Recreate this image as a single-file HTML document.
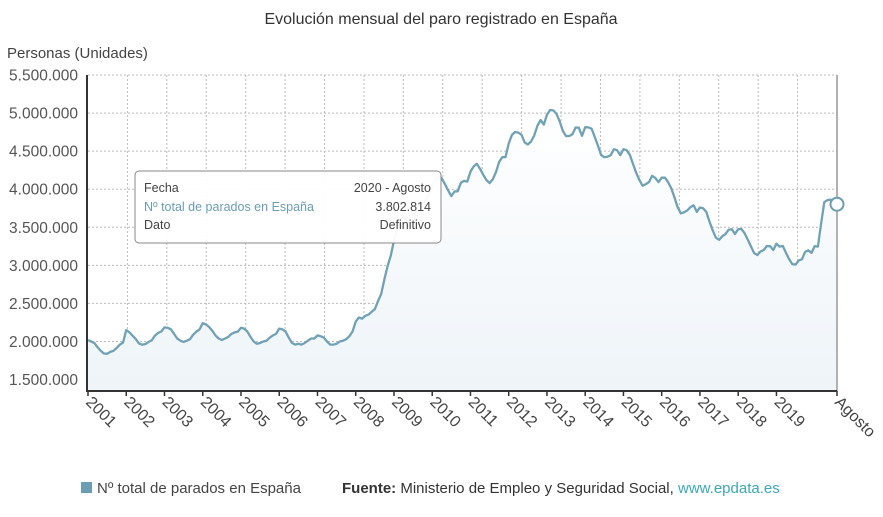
<!DOCTYPE html>
<html><head><meta charset="utf-8">
<style>
body{margin:0;background:#fff;width:883px;height:512px;overflow:hidden;font-family:"Liberation Sans",Arial,sans-serif;}
svg text{font-family:"Liberation Sans",Arial,sans-serif;}
</style></head>
<body>
<svg id="chart" width="883" height="512">
<defs><linearGradient id="fillg" x1="0" y1="0" x2="0" y2="1"><stop offset="0" stop-color="#ffffff"/><stop offset="1" stop-color="#eef4f8"/></linearGradient></defs>
<text x="441" y="24" text-anchor="middle" font-size="16" fill="#333">Evolución mensual del paro registrado en España</text>
<text x="7" y="58" font-size="15" fill="#444">Personas (Unidades)</text>
<g id="grid"></g>
<path id="area" fill="url(#fillg)"></path>
<path id="line" fill="none" stroke="#6fa2b6" stroke-width="2.3" stroke-linejoin="round"></path>
<g id="axes"></g>
<g id="tooltip">
<rect x="135" y="171" width="306" height="72" rx="4" fill="#fff" fill-opacity="0.95" stroke="#888"/>
<text x="144" y="192" font-size="12.5" fill="#444">Fecha</text>
<text x="431" y="192" font-size="12.5" fill="#444" text-anchor="end">2020 - Agosto</text>
<text x="144" y="211" font-size="12.5" fill="#6b9db3">Nº total de parados en España</text>
<text x="431" y="211" font-size="12.5" fill="#444" text-anchor="end">3.802.814</text>
<text x="144" y="229" font-size="12.5" fill="#444">Dato</text>
<text x="431" y="229" font-size="12.5" fill="#444" text-anchor="end">Definitivo</text>
</g>
<circle id="marker" r="6.5" fill="#fff" stroke="#6b9db3" stroke-width="2"></circle>
<rect x="81" y="482" width="11" height="11" fill="#6b9db3"/>
<text x="97" y="493" font-size="15" fill="#444">Nº total de parados en España</text>
<text x="342" y="493" font-size="15" fill="#333"><tspan font-weight="bold">Fuente:</tspan> Ministerio de Empleo y Seguridad Social, <tspan fill="#3aa9b8">www.epdata.es</tspan></text>
</svg>
<script>
const years = ["2001","2002","2003","2004","2005","2006","2007","2008","2009","2010","2011","2012","2013","2014","2015","2016","2017","2018","2019"];
const yTicks = [1500000,2000000,2500000,3000000,3500000,4000000,4500000,5000000,5500000];
const values = [
2018,1999,1979,1924,1878,1842,1838,1863,1878,1916,1959,1987,
2150,2121,2076,2032,1974,1958,1967,1995,2015,2078,2112,2131,
2185,2180,2160,2100,2040,2010,1995,2010,2030,2090,2130,2160,
2240,2225,2190,2140,2080,2040,2020,2040,2060,2100,2120,2130,
2180,2170,2130,2060,2000,1970,1980,2000,2010,2050,2080,2100,
2170,2160,2130,2050,1980,1960,1970,1960,1980,2010,2040,2040,
2080,2070,2050,2000,1960,1960,1970,2000,2010,2030,2070,2130,
2261,2315,2300,2338,2353,2390,2426,2531,2625,2818,2990,3128,
3327,3482,3605,3645,3620,3565,3544,3629,3709,3808,3869,3924,
4048,4131,4167,4142,4066,3982,3909,3970,3972,4085,4110,4100,
4231,4300,4334,4269,4190,4121,4080,4130,4226,4360,4420,4422,
4599,4712,4751,4744,4714,4615,4587,4626,4705,4833,4908,4849,
4980,5040,5035,4989,4890,4763,4698,4699,4724,4811,4808,4701,
4814,4812,4795,4684,4572,4449,4420,4427,4447,4526,4512,4448,
4526,4512,4452,4333,4215,4120,4046,4067,4094,4176,4149,4094,
4151,4152,4094,4011,3891,3767,3683,3697,3721,3764,3789,3702,
3760,3750,3702,3573,3461,3363,3336,3382,3410,3467,3475,3412,
3476,3478,3422,3336,3252,3162,3135,3182,3202,3254,3252,3202,
3285,3246,3255,3163,3079,3015,3011,3065,3079,3177,3198,3163,
3253,3246,3548,3831,3857,3862,3773,3803];
const NS="http://www.w3.org/2000/svg";
const L=88,R=837,T=75,B=391;
const nM=values.length-1;
const xS=i=>L+(R-L)*i/nM;
const yMin=1350000,yMax=5500000;
const yS=v=>B-(v-yMin)/(yMax-yMin)*(B-T);
function el(t,a,p){const e=document.createElementNS(NS,t);for(const k in a)e.setAttribute(k,a[k]);p.appendChild(e);return e;}
const grid=document.getElementById('grid'),axes=document.getElementById('axes');
const fmt=v=>v.toString().replace(/\B(?=(\d{3})+(?!\d))/g,'.');
yTicks.forEach(v=>{
 const y=yS(v);
 const g=el('line',{x1:L,x2:R,y1:y,y2:y,stroke:'#bbb','stroke-dasharray':'2,2'},grid);
 
 
 const t=el('text',{x:78,y:y+5.5,'text-anchor':'end','font-size':15.5,fill:'#555'},axes);
 t.textContent=fmt(v);
 
 
});
for(let k=1;k<19;k++){
 const x=L+(R-L)*k/19;
 const g=el('line',{x1:x,x2:x,y1:T,y2:B,stroke:'#bbb','stroke-dasharray':'2,2'},grid);
 
 
}
let d='';
values.forEach((v,i)=>{d+=(i?'L':'M')+xS(i).toFixed(1)+','+yS(v*1000).toFixed(1);});
document.getElementById('line').setAttribute('d',d);
document.getElementById('area').setAttribute('d',d+'L'+xS(nM)+','+B+'L'+L+','+B+'Z');
const mk=document.getElementById('marker');
mk.setAttribute('cx',xS(nM));mk.setAttribute('cy',yS(values[nM]*1000));
el('line',{x1:L-1,x2:L-1,y1:T,y2:B+1,stroke:'#333','stroke-width':2},axes);
el('line',{x1:R,x2:R,y1:T,y2:B,stroke:'#999','stroke-width':1.5},axes);
el('line',{x1:L-1,x2:R,y1:B,y2:B,stroke:'#333','stroke-width':2},axes);
const labels=years.concat(['Agosto']);
labels.forEach((lb,k)=>{
 const x=k<years.length?xS(k*12):xS(nM);
 el('line',{x1:x,x2:x,y1:B,y2:B+5,stroke:'#333','stroke-width':1.5},axes);
 const t=el('text',{x:0,y:0,'font-size':16,fill:'#444',transform:`translate(${x-3},${B+12}) rotate(45)`},axes);
 t.textContent=lb;
 
 
});
</script>
</body></html>
